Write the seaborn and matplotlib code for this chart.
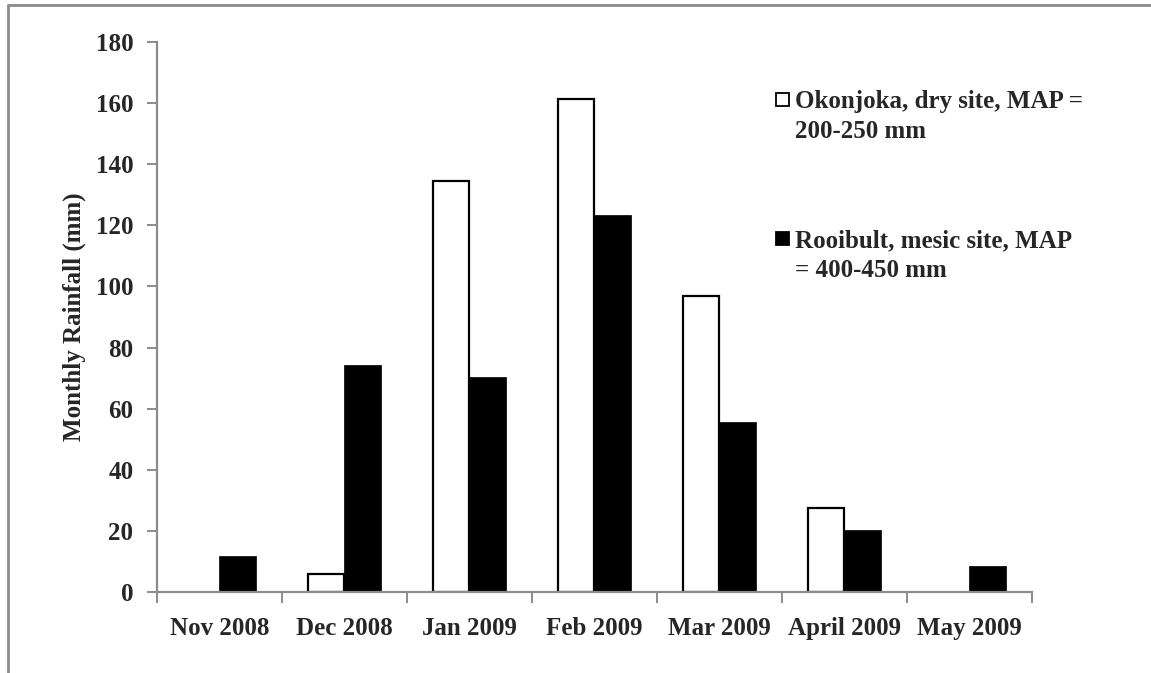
import matplotlib

matplotlib.use("Agg")
import matplotlib.pyplot as plt
import pandas as pd
import seaborn as sns
from matplotlib.lines import Line2D
from matplotlib.patches import Rectangle

months = ["Nov 2008", "Dec 2008", "Jan 2009", "Feb 2009", "Mar 2009", "April 2009", "May 2009"]
okonjoka = [0, 6, 134.5, 161.5, 97, 27.5, 0]
rooibult = [11.8, 74.2, 70.2, 123.5, 55.6, 20.2, 8.6]
sites = ["Okonjoka, dry site, MAP =\n200-250 mm", "Rooibult, mesic site, MAP\n= 400-450 mm"]

df = pd.DataFrame(
    {
        "month": months * 2,
        "rain": okonjoka + rooibult,
        "site": [sites[0]] * len(months) + [sites[1]] * len(months),
    }
)

sns.set_theme(style="white")
plt.rcParams["font.family"] = ["Liberation Serif", "DejaVu Serif"]
plt.rcParams["font.weight"] = "bold"

fig = plt.figure(figsize=(11.51, 6.73), dpi=100)
ax = fig.add_axes([0.1364, 0.1204, 0.7602, 0.8172])

sns.barplot(
    data=df,
    x="month",
    y="rain",
    hue="site",
    order=months,
    hue_order=sites,
    palette=["white", "black"],
    edgecolor="black",
    linewidth=1.6,
    width=0.58,
    legend=False,
    ax=ax,
)
# black bars get a thin edge, empty months show nothing
for p in ax.patches[len(months):]:
    p.set_linewidth(0.5)
for p in ax.patches:
    if p.get_height() == 0:
        p.set_visible(False)

ax.set_ylim(0, 180)
ax.set_xlim(-0.5, len(months) - 0.5)
ax.set_yticks(range(0, 181, 20))
ax.set_xlabel("")
ax.set_ylabel("Monthly Rainfall (mm)", fontsize=18, fontweight="bold", labelpad=7)

for s in ["top", "right"]:
    ax.spines[s].set_visible(False)
for s in ["left", "bottom"]:
    ax.spines[s].set_color("#8c8c8c")
    ax.spines[s].set_linewidth(1.6)

ax.tick_params(axis="y", left=True, length=7, width=1.4, color="#8c8c8c", labelsize=18, pad=10)
ax.tick_params(axis="x", which="major", bottom=False, labelsize=18, pad=12)
ax.set_xticks([i - 0.5 for i in range(len(months) + 1)], minor=True)
ax.tick_params(axis="x", which="minor", bottom=True, length=8, width=1.4, color="#8c8c8c")
for lab in ax.get_xticklabels() + ax.get_yticklabels():
    lab.set_fontweight("bold")

# legend keys + text, Excel style
fig.add_artist(Rectangle((776 / 1151, 1 - 106 / 673), 13 / 1151, 13 / 673,
                         transform=fig.transFigure, facecolor="white", edgecolor="black", linewidth=1.3))
fig.add_artist(Rectangle((776 / 1151, 1 - 245 / 673), 13 / 1151, 13 / 673,
                         transform=fig.transFigure, facecolor="black", edgecolor="black", linewidth=1.3))
fig.text(795 / 1151, 1 - 90 / 673, sites[0], fontsize=18, fontweight="bold", va="top",
         linespacing=1.38)
fig.text(795 / 1151, 1 - 229 / 673, sites[1], fontsize=18, fontweight="bold", va="top",
         linespacing=1.38)

# outer chart frame
fig.add_artist(Line2D([8 / 1151, 8 / 1151], [0, 1 - 5 / 673], transform=fig.transFigure,
                      color="#8c8c8c", linewidth=2))
fig.add_artist(Line2D([8 / 1151, 1], [1 - 5 / 673, 1 - 5 / 673], transform=fig.transFigure,
                      color="#8c8c8c", linewidth=2))

fig.savefig("out.png", dpi=100)
